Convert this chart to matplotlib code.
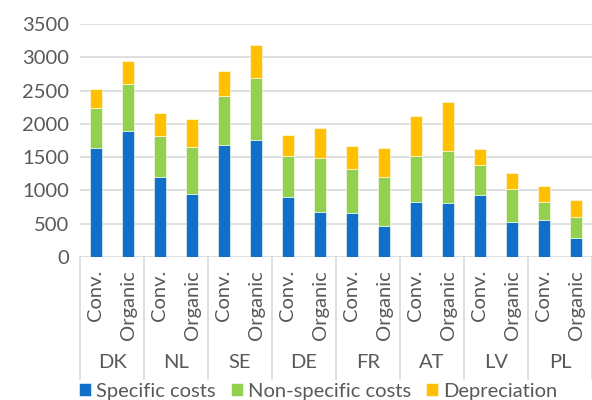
import numpy as np
import matplotlib
matplotlib.use('Agg')
import matplotlib.pyplot as plt
import matplotlib.transforms as mtransforms

# === DATOS ===
countries = ['DK', 'NL', 'SE', 'DE', 'FR', 'AT', 'LV', 'PL']
systems = ['Conv.', 'Organic']
specific = [1632, 1893, 1195, 949, 1677, 1752, 904, 673, 668, 472, 828, 818, 924, 532, 557, 291]
non_specific = [607, 707, 617, 708, 738, 939, 617, 808, 657, 723, 683, 768, 451, 482, 276, 316]
depreciation = [286, 342, 347, 411, 381, 492, 306, 457, 347, 447, 602, 738, 246, 246, 231, 246]
yticks = [0, 500, 1000, 1500, 2000, 2500, 3000, 3500]

plt.rcParams['font.family'] = ['Lato', 'DejaVu Sans']
gray = '#595959'
grid = '#D9D9D9'
fs = 14.5

fig = plt.figure(figsize=(5.92, 4.0), dpi=100)
W, H = 592, 400
ax = fig.add_axes([80 / W, (H - 257) / H, 512 / W, 233 / H])

x = np.arange(len(specific))
spec = np.array(specific)
nons = np.array(non_specific)
dep = np.array(depreciation)
kw = dict(width=0.4, edgecolor='#FFFFFF', linewidth=0.4, zorder=3)
b1 = ax.bar(x, spec, color='#1070C8', label='Specific costs', **kw)
b2 = ax.bar(x, nons, bottom=spec, color='#92D050', label='Non-specific costs', **kw)
b3 = ax.bar(x, dep, bottom=spec + nons, color='#FFC000', label='Depreciation', **kw)

ax.set_xlim(-0.5, len(x) - 0.5)
ax.set_ylim(0, 3500)
ax.set_yticks(yticks)
ax.set_yticklabels([str(v) for v in yticks], fontsize=fs, color=gray)
ax.tick_params(axis='y', length=0, pad=8)
ax.set_xticks([])
for s in ax.spines.values():
    s.set_visible(False)
ax.grid(axis='y', color=grid, linewidth=1.2, zorder=0)
ax.set_axisbelow(True)

# === EJE DE CATEGORIAS EN DOS NIVELES ===
trans = mtransforms.blended_transform_factory(ax.transData, ax.transAxes)
ybot = (257 - 379) / 233
for k in range(len(countries) + 1):
    ax.plot([2 * k - 0.5, 2 * k - 0.5], [0, ybot], color=grid, lw=1.2,
            transform=trans, clip_on=False)
for i in x:
    ax.text(i, (257 - 270) / 233, systems[i % 2], rotation=90, ha='center', va='top',
            fontsize=fs, color=gray, transform=trans)
for k, c in enumerate(countries):
    ax.text(2 * k + 0.5, (257 - 362) / 233, c, ha='center', va='center',
            fontsize=fs, color=gray, transform=trans)

fig.legend(handles=[b1, b2, b3], loc='center', bbox_to_anchor=(318 / W, (H - 391) / H),
           ncol=3, frameon=False, fontsize=fs, labelcolor=gray, handlelength=0.6,
           handleheight=0.6, handletextpad=0.25, columnspacing=0.75, borderpad=0)

fig.savefig('out.png', dpi=100)
